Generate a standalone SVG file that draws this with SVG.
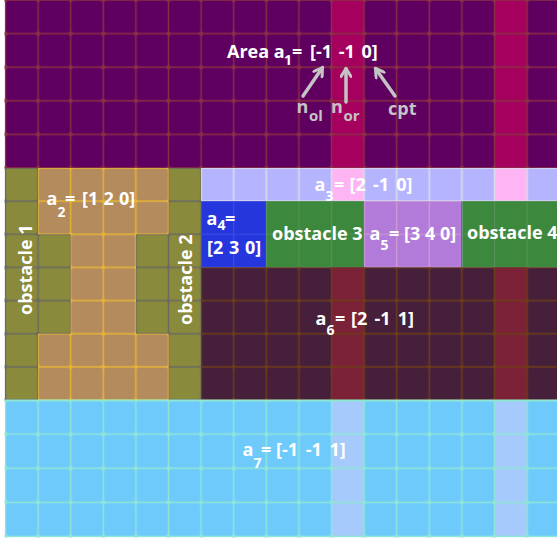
<svg xmlns="http://www.w3.org/2000/svg" width="557" height="542" viewBox="0 0 557 542">
<style>
text{font-family:"Open Sans","Noto Sans","DejaVu Sans",sans-serif;font-weight:bold;fill:#fff;font-size:18px}
.sub{font-size:14px}
.gray{fill:#c4c4c4}
.gsub{font-size:15px}
.conn{fill:none;stroke:#c4c4c4;stroke-width:3.5;stroke-linecap:round;marker-end:url(#ah)}
</style>
<defs>
<marker id="ah" markerUnits="userSpaceOnUse" viewBox="0 0 12 12" refX="10" refY="6" markerWidth="12" markerHeight="12" orient="auto">
<path d="M2 1L10 6L2 11" fill="none" stroke="#c4c4c4" stroke-width="3" stroke-linecap="round" stroke-linejoin="round"/>
</marker>
<pattern id="g-top" patternUnits="userSpaceOnUse" x="-10.8" y="-16.8" width="32.6" height="33.6">
<path d="M16.3 0V33.6M0 16.8H32.6" stroke="#8c2e44" stroke-width="1.4"/><circle cx="16.3" cy="16.8" r="2.2" fill="#8c2e44"/>
</pattern>
<pattern id="g-lav" patternUnits="userSpaceOnUse" x="-10.8" y="151.43" width="32.6" height="33.143">
<path d="M16.3 0V33.143M0 16.571H32.6" stroke="#dcdce8" stroke-width="1.6"/>
</pattern>
<pattern id="g-olive" patternUnits="userSpaceOnUse" x="-10.8" y="151.43" width="32.6" height="33.143">
<path d="M16.3 0V33.143M0 16.571H32.6" stroke="#6a6a62" stroke-width="1.4"/><circle cx="16.3" cy="16.571" r="2" fill="#6a6a62"/>
</pattern>
<pattern id="g-tan" patternUnits="userSpaceOnUse" x="-10.8" y="151.43" width="32.6" height="33.143">
<path d="M16.3 0V33.143M0 16.571H32.6" stroke="#e6b535" stroke-width="1.4"/><circle cx="16.3" cy="16.571" r="2" fill="#e6b535"/>
</pattern>
<pattern id="g-blue" patternUnits="userSpaceOnUse" x="-10.8" y="151.43" width="32.6" height="33.143">
<path d="M16.3 0V33.143M0 16.571H32.6" stroke="#3d4fe6" stroke-width="1.2"/>
</pattern>
<pattern id="g-green" patternUnits="userSpaceOnUse" x="-10.8" y="151.43" width="32.6" height="33.143">
<path d="M16.3 0V33.143M0 16.571H32.6" stroke="#55905a" stroke-width="1.2"/>
</pattern>
<pattern id="g-lilac" patternUnits="userSpaceOnUse" x="-10.8" y="151.43" width="32.6" height="33.143">
<path d="M16.3 0V33.143M0 16.571H32.6" stroke="#cf9fcf" stroke-width="1.2"/>
</pattern>
<pattern id="g-dark" patternUnits="userSpaceOnUse" x="-10.8" y="151.43" width="32.6" height="33.143">
<path d="M16.3 0V33.143M0 16.571H32.6" stroke="#6e3c16" stroke-width="1.4"/><circle cx="16.3" cy="16.571" r="2" fill="#6e3c16"/>
</pattern>
<pattern id="g-sky" patternUnits="userSpaceOnUse" x="-10.8" y="382.94" width="32.6" height="34.125">
<path d="M16.3 0V34.125M0 17.06H32.6" stroke="#8ee6d6" stroke-width="1.4"/><circle cx="16.3" cy="17.06" r="2.2" fill="#8ee6d6"/>
</pattern>
</defs>
<rect width="557" height="542" fill="#fff"/>

<g id="area-a1">
<rect x="5" y="0" width="552" height="168" fill="#5f0060"/>
<rect x="331.5" y="0" width="32.6" height="168" fill="#a6005f"/>
<rect x="494.5" y="0" width="32.6" height="168" fill="#a6005f"/>
<rect x="4.5" y="0" width="552.5" height="168" fill="url(#g-top)"/>
<text><tspan x="227" y="58">Area a</tspan><tspan class="sub" x="284" y="65">1</tspan><tspan x="292" y="58">=</tspan><tspan x="310" y="58" word-spacing="2">[-1 -1 0]</tspan></text>
</g>

<g id="obstacle-1-2-background">
<rect x="5" y="168" width="196.1" height="232" fill="#898a3b"/>
<rect x="4.5" y="168" width="196.6" height="232" fill="url(#g-olive)"/>
</g>

<g id="area-a2">
<path d="M38.1 168H168.5V234.29H135.9V333.71H168.5V400H38.1V333.71H70.7V234.29H38.1Z" fill="#b48b5c"/>
<path d="M38.1 168H168.5V234.29H135.9V333.71H168.5V400H38.1V333.71H70.7V234.29H38.1Z" fill="url(#g-tan)"/>
<text><tspan x="46.5" y="205">a</tspan><tspan class="sub" x="57.5" y="216.5">2</tspan><tspan x="65" y="205">=</tspan><tspan x="82" y="205" word-spacing="0.5">[1 2 0]</tspan></text>
</g>

<g id="obstacle-1">
<text transform="translate(31.5 315) rotate(-90)">obstacle 1</text>
</g>
<g id="obstacle-2">
<text transform="translate(191.5 325) rotate(-90)">obstacle 2</text>
</g>

<g id="area-a3">
<rect x="201.1" y="168" width="356" height="33.14" fill="#b4b4ff"/>
<rect x="331.5" y="168" width="32.6" height="33.14" fill="#ffb4f4"/>
<rect x="494.5" y="168" width="32.6" height="33.14" fill="#ffb4f4"/>
<rect x="201.1" y="168" width="356" height="33.14" fill="url(#g-lav)"/>
<text><tspan x="314.5" y="190.5">a</tspan><tspan class="sub" x="325.5" y="200.5">3</tspan><tspan x="334" y="190.5">=</tspan><tspan x="349.5" y="190.5" word-spacing="2.5">[2 -1 0]</tspan></text>
</g>

<g id="area-a4">
<rect x="201.1" y="201.14" width="65.2" height="66.29" fill="#2436dc"/>
<rect x="201.1" y="201.14" width="65.2" height="66.29" fill="url(#g-blue)"/>
<text><tspan x="206.5" y="225">a</tspan><tspan class="sub" x="217.5" y="230">4</tspan><tspan x="225" y="225">=</tspan></text>
<text x="207" y="253.5" word-spacing="1">[2 3 0]</text>
</g>

<g id="obstacle-3">
<rect x="266.3" y="201.14" width="97.8" height="66.29" fill="#3c883c"/>
<rect x="266.3" y="201.14" width="97.8" height="66.29" fill="url(#g-green)"/>
<text x="272" y="240">obstacle 3</text>
</g>

<g id="area-a5">
<rect x="364.1" y="201.14" width="97.8" height="66.29" fill="#b27bd9"/>
<rect x="364.1" y="201.14" width="97.8" height="66.29" fill="url(#g-lilac)"/>
<line x1="461.9" y1="201.5" x2="461.9" y2="267" stroke="#3333cc" stroke-width="1"/>
<text><tspan x="369.5" y="240">a</tspan><tspan class="sub" x="380.5" y="250">5</tspan><tspan x="389" y="240">=</tspan><tspan x="404" y="240">[3 4 0]</tspan></text>
</g>

<g id="obstacle-4">
<rect x="462.4" y="201.14" width="94.6" height="66.29" fill="#3c883c"/>
<rect x="462.4" y="201.14" width="94.6" height="66.29" fill="url(#g-green)"/>
<text x="467" y="238.5">obstacle 4</text>
</g>

<g id="area-a6">
<rect x="201.1" y="267.43" width="356" height="132.57" fill="#46203a"/>
<rect x="331.5" y="267.43" width="32.6" height="132.57" fill="#7c2238"/>
<rect x="494.5" y="267.43" width="32.6" height="132.57" fill="#7c2238"/>
<rect x="201.1" y="267.43" width="356" height="132.57" fill="url(#g-dark)"/>
<text><tspan x="315.5" y="325">a</tspan><tspan class="sub" x="326.5" y="335">6</tspan><tspan x="335" y="325">=</tspan><tspan x="351" y="325" word-spacing="2.5">[2 -1 1]</tspan></text>
</g>

<g id="area-a7">
<rect x="5" y="400" width="552" height="136.5" fill="#6ecafb"/>
<rect x="331.5" y="400" width="32.6" height="136.5" fill="#a6cafb"/>
<rect x="494.5" y="400" width="32.6" height="136.5" fill="#a6cafb"/>
<rect x="4.5" y="400" width="552.5" height="137.5" fill="url(#g-sky)"/>
<line x1="4.5" y1="400.5" x2="557" y2="400.5" stroke="#8ee6d6" stroke-width="2"/>
<text><tspan x="242.5" y="456">a</tspan><tspan class="sub" x="253.5" y="468">7</tspan><tspan x="261" y="456">=</tspan><tspan x="276" y="456" word-spacing="3">[-1 -1 1]</tspan></text>
</g>

<g id="label-nol">
<text class="gray"><tspan x="296.5" y="113">n</tspan><tspan class="gsub" x="309" y="120.5">ol</tspan></text>
</g>
<g id="label-nor">
<text class="gray"><tspan x="331" y="113">n</tspan><tspan class="gsub" x="343.5" y="120.5">or</tspan></text>
</g>
<g id="label-cpt">
<text class="gray" x="388" y="115">cpt</text>
</g>

<g id="connectors">
<path class="conn" d="M303 96L322.5 67.5"/>
<path class="conn" d="M346 102L346 68.5"/>
<path class="conn" d="M395 96L375.5 68.5"/>
</g>
</svg>
